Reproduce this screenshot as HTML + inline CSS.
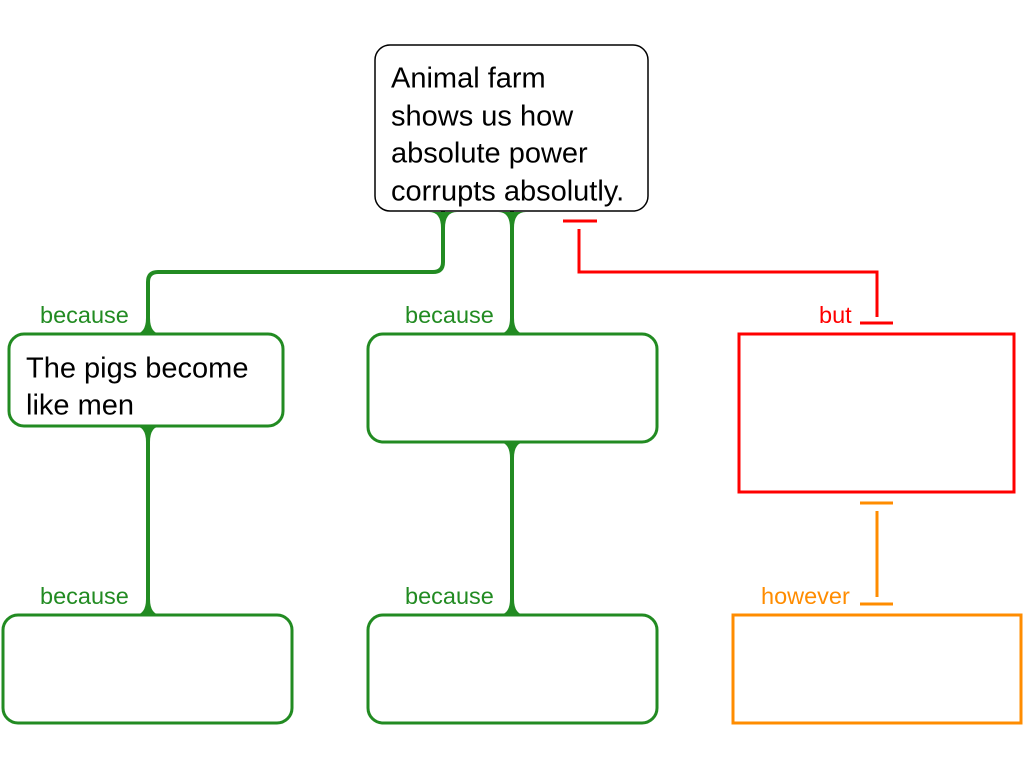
<!DOCTYPE html>
<html><head><meta charset="utf-8"><style>
html,body{margin:0;padding:0;background:#fff;}
svg{display:block;font-family:"Liberation Sans",Arial,sans-serif;}
</style></head><body>
<svg width="1024" height="768" viewBox="0 0 1024 768" xmlns="http://www.w3.org/2000/svg">
<g fill="none" stroke="#228B22" stroke-width="4">
<path d="M443 211 V262 Q443 272 433 272 H158 Q148 272 148 282 V334"/>
<path d="M512 211 V334"/>
<path d="M148 426 V615"/>
<path d="M512 442 V615"/>
</g>
<g fill="#228B22">
<path d="M429 212 Q441 212 441 228 L445 228 Q445 212 457 212 Z"/>
<path d="M498 212 Q510 212 510 228 L514 228 Q514 212 526 212 Z"/>
<path d="M134 334 Q146 334 146 318 L150 318 Q150 334 162 334 Z"/>
<path d="M498 334 Q510 334 510 318 L514 318 Q514 334 526 334 Z"/>
<path d="M134 426 Q146 426 146 442 L150 442 Q150 426 162 426 Z"/>
<path d="M498 442 Q510 442 510 458 L514 458 Q514 442 526 442 Z"/>
<path d="M134 615 Q146 615 146 599 L150 599 Q150 615 162 615 Z"/>
<path d="M498 615 Q510 615 510 599 L514 599 Q514 615 526 615 Z"/>
</g>
<rect x="375" y="45" width="273" height="166" rx="15" fill="#fff" stroke="#000" stroke-width="1.5"/>
<g font-size="29" fill="#000">
<text x="391" y="87.5">Animal farm</text>
<text x="391" y="125.5">shows us how</text>
<text x="391" y="162.5">absolute power</text>
<text x="391" y="200.5">corrupts absolutly.</text>
<text x="26" y="377.5">The pigs become</text>
<text x="26" y="414.5">like men</text>
</g>
<g fill="none" stroke="#228B22" stroke-width="3">
<rect x="9" y="334" width="274" height="92" rx="15"/>
<rect x="368" y="334" width="289" height="108" rx="15"/>
<rect x="3" y="615" width="289" height="108" rx="15"/>
<rect x="368" y="615" width="289" height="108" rx="15"/>
</g>
<g font-size="23.5" fill="#228B22">
<text x="40" y="323">because</text>
<text x="405" y="323">because</text>
<text x="40" y="604">because</text>
<text x="405" y="604">because</text>
</g>
<g fill="none" stroke="#FF0000" stroke-width="3">
<path d="M563 221 H597 M579 229 V272 H877 V317 M860 323 H893"/>
<rect x="739" y="334" width="275" height="158"/>
</g>
<text x="819" y="323" font-size="23.5" fill="#FF0000">but</text>
<g fill="none" stroke="#FF8C00" stroke-width="3">
<path d="M860 503 H893 M877 511 V597 M860 604 H893"/>
<rect x="733" y="615" width="288" height="108"/>
</g>
<text x="761" y="604" font-size="23.5" fill="#FF8C00">however</text>
</svg>
</body></html>
